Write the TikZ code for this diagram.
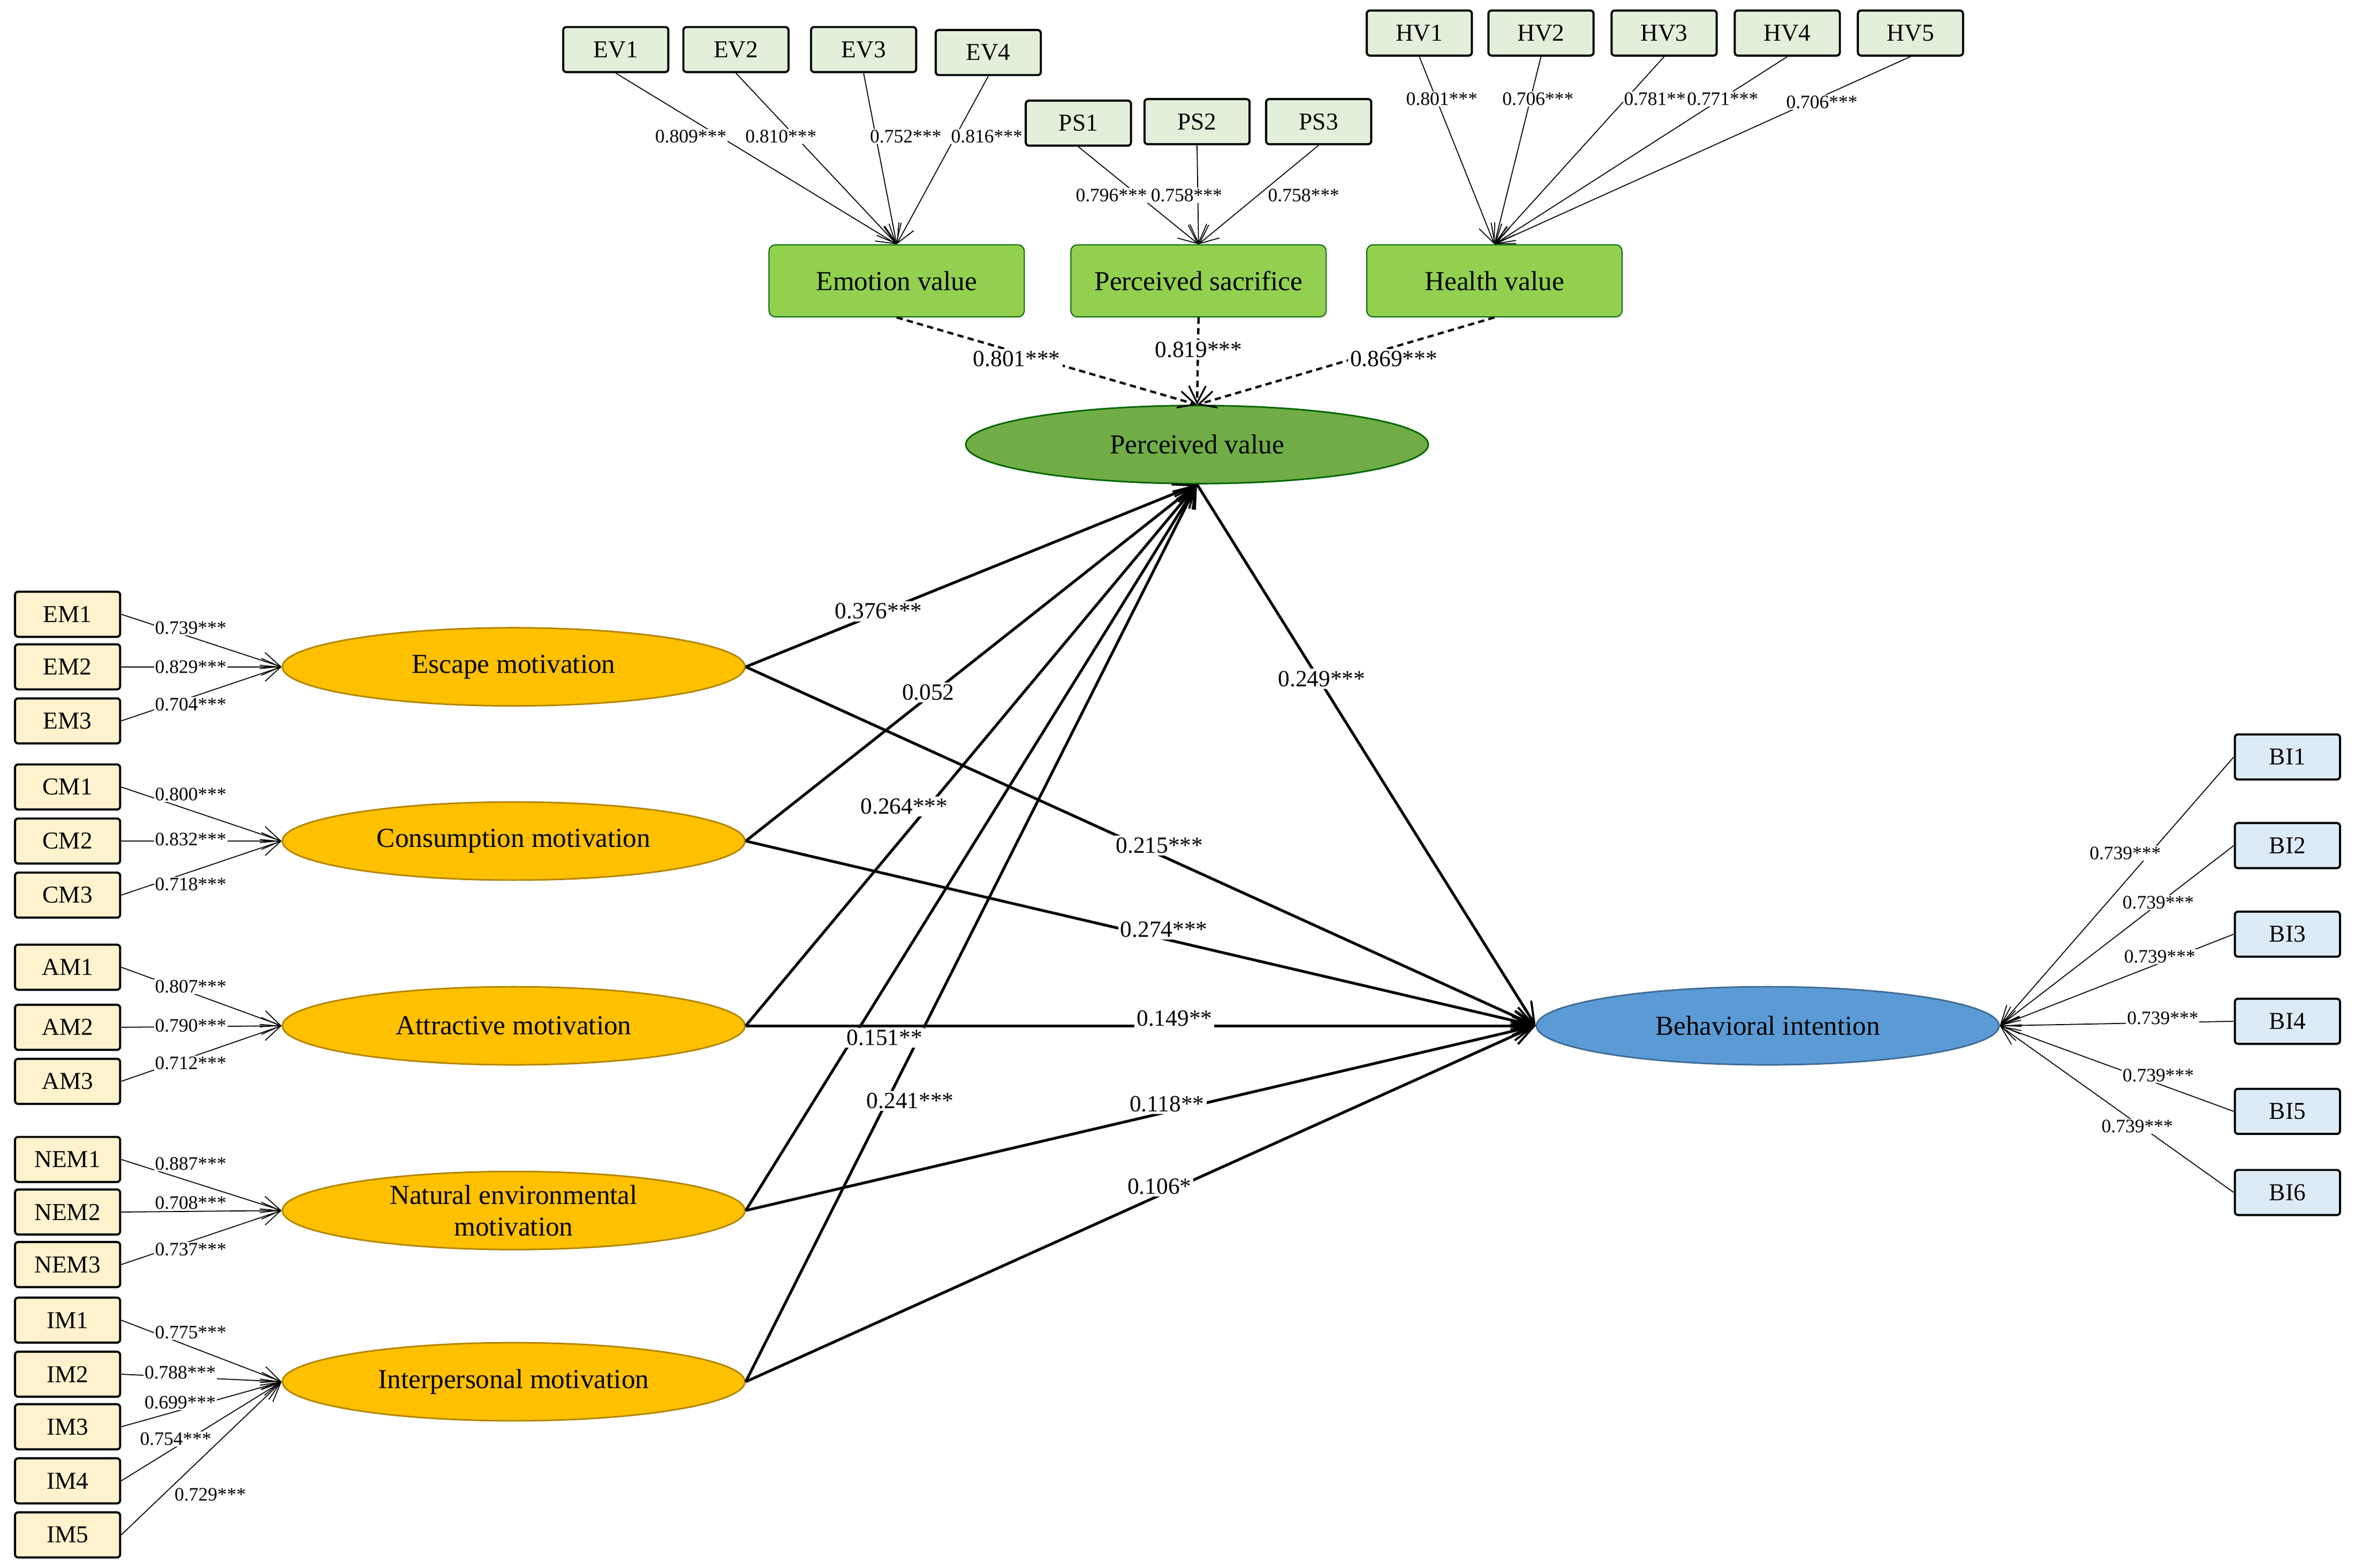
\documentclass[tikz,border=0pt]{standalone}
\usepackage{fontspec}
\setmainfont{Liberation Serif}
\usetikzlibrary{arrows.meta,shapes.geometric}
\definecolor{cream}{HTML}{FFF2CC}
\definecolor{lgreen}{HTML}{E2EFDA}
\definecolor{mgreen}{HTML}{92D050}
\definecolor{dgreen}{HTML}{70AD47}
\definecolor{gold}{HTML}{FFC000}
\definecolor{bblue}{HTML}{5B9BD5}
\definecolor{lblue}{HTML}{DDEBF7}
\tikzset{
 ind/.style={draw=black,line width=2pt,rounded corners=3pt,minimum width=3.5cm,minimum height=1.5cm,inner sep=0pt,font=\fontsize{23}{26}\selectfont},
 lv/.style={draw=black!60!green,line width=1pt,rounded corners=6pt,fill=mgreen,minimum width=8.5cm,minimum height=2.4cm,inner sep=0pt,font=\fontsize{26}{30}\selectfont},
 ell/.style={ellipse,line width=1.5pt,minimum width=15.4cm,minimum height=2.6cm,inner sep=0pt,font=\fontsize{26}{30}\selectfont,align=center},
 thin/.style={line width=0.9pt,-{Straight Barb[length=18pt,width=16pt,line width=0.9pt]}},
 thick/.style={line width=2.6pt,-{Straight Barb[length=20pt,width=18pt,line width=2pt]}},
 dsh/.style={line width=2.2pt,dash pattern=on 6pt off 4pt,-{Straight Barb[length=16pt,width=16pt,line width=1.6pt]}},
 sl/.style={fill=white,inner sep=1pt,font=\fontsize{18}{20}\selectfont},
 pl/.style={fill=white,inner sep=2pt,font=\fontsize{22}{26}\selectfont},
}
\begin{document}
\begin{tikzpicture}[x=0.05cm,y=-0.05cm]
\useasboundingbox[fill=white] (0,0) rectangle (1568,1044);
% top indicators
\foreach \n/\x/\y in {EV1/410/33,EV2/490/33,EV3/575/33,EV4/658/35,PS1/718/82,PS2/797/81,PS3/878/81,HV1/945/22,HV2/1026/22,HV3/1108/22,HV4/1190/22,HV5/1272/22}
  \node[ind,fill=lgreen] (\n) at (\x,\y) {\n};
\node[lv] (ev) at (597,187) {Emotion value};
\node[lv] (ps) at (798,187) {Perceived sacrifice};
\node[lv] (hv) at (995,187) {Health value};
\node[ell,draw=green!40!black,fill=dgreen] (pv) at (797,296) {Perceived value};
\node[ell,draw=gold!70!black,fill=gold] (em) at (342,444) {Escape motivation};
\node[ell,draw=gold!70!black,fill=gold] (cm) at (342,560) {Consumption motivation};
\node[ell,draw=gold!70!black,fill=gold] (am) at (342,683) {Attractive motivation};
\node[ell,draw=gold!70!black,fill=gold] (nm) at (342,806) {Natural environmental\\motivation};
\node[ell,draw=gold!70!black,fill=gold] (im) at (342,920) {Interpersonal motivation};
\node[ell,draw=bblue!70!black,fill=bblue] (bi) at (1177,683) {Behavioral intention};
\foreach \n/\y in {EM1/409,EM2/444,EM3/480,CM1/524,CM2/560,CM3/596,AM1/644,AM2/684,AM3/720,NEM1/772,NEM2/807,NEM3/842,IM1/879,IM2/915,IM3/950,IM4/986,IM5/1022}
  \node[ind,fill=cream] (\n) at (45,\y) {\n};
\foreach \n/\y in {BI1/504,BI2/563,BI3/622,BI4/680,BI5/740,BI6/794}
  \node[ind,fill=lblue] (\n) at (1523,\y) {\n};
% measurement arrows
\foreach \n in {EV1,EV2,EV3,EV4} \draw[thin] (\n.south) -- (ev.north);
\foreach \n in {PS1,PS2,PS3} \draw[thin] (\n.south) -- (ps.north);
\foreach \n in {HV1,HV2,HV3,HV4,HV5} \draw[thin] (\n.south) -- (hv.north);
\foreach \n in {EM1,EM2,EM3} \draw[thin] (\n.east) -- (em.west);
\foreach \n in {CM1,CM2,CM3} \draw[thin] (\n.east) -- (cm.west);
\foreach \n in {AM1,AM2,AM3} \draw[thin] (\n.east) -- (am.west);
\foreach \n in {NEM1,NEM2,NEM3} \draw[thin] (\n.east) -- (nm.west);
\foreach \n in {IM1,IM2,IM3,IM4,IM5} \draw[thin] (\n.east) -- (im.west);
\foreach \n in {BI1,BI2,BI3,BI4,BI5,BI6} \draw[thin] (\n.west) -- (bi.east);
% second order
\draw[dsh] (ev.south) -- (pv.north);
\draw[dsh] (ps.south) -- (pv.north);
\draw[dsh] (hv.south) -- (pv.north);
% structural
\foreach \n in {em,cm,am,nm,im} {\draw[thick] (\n.east) -- (pv.south); \draw[thick] (\n.east) -- (bi.west);}
\draw[thick] (pv.south) -- (bi.west);
% small labels
\foreach \t/\x/\y in {0.809/460/91,0.810/520/91,0.752/603/91,0.816/657/91,0.796/740/130,0.758/790/130,0.758/868/130,0.801/960/66,0.706/1024/66,0.781/1105/66,0.771/1147/66,0.706/1213/68,
0.739/127/418,0.829/127/444,0.704/127/469,0.800/127/529,0.832/127/559,0.718/127/589,0.807/127/657,0.790/127/683,0.712/127/708,0.887/127/775,0.708/127/801,0.737/127/832,0.775/127/887,0.788/120/914,0.699/120/934,0.754/117/958,0.729/140/995,
0.739/1415/568,0.739/1437/601,0.739/1438/637,0.739/1440/678,0.739/1437/716,0.739/1423/750}
  \node[sl] at (\x,\y) {\t***};
% path labels
\foreach \t/\x/\y in {0.801***/677/239,0.819***/798/233,0.869***/928/239,0.376***/585/407,0.052/618/461,0.264***/602/537,0.151**/589/691,0.241***/606/733,0.215***/772/563,0.274***/775/619,0.149**/782/678,0.118**/777/735,0.106*/772/790,0.249***/880/452}
  \node[pl] at (\x,\y) {\t};
\end{tikzpicture}
\end{document}
